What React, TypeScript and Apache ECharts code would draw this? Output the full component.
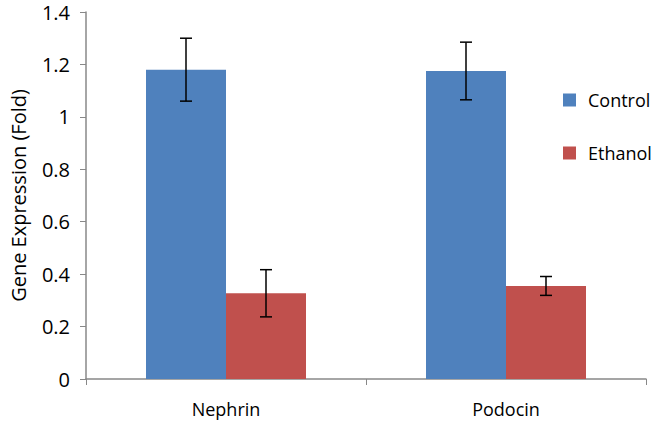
import React, { useEffect, useRef } from "react";
import * as echarts from "echarts";

const categories = ["Nephrin", "Podocin"];
const controlValues = [1.18, 1.175];
const controlErrors = [0.12, 0.11];
const ethanolValues = [0.327, 0.355];
const ethanolErrors = [0.09, 0.036];
const seriesNames = ["Control", "Ethanol"];
const colors = ["#4F81BD", "#C0504D"];
const BAR_W = 80;

export default function App() {
  const ref = useRef<HTMLDivElement>(null);
  useEffect(() => {
    const chart = echarts.init(ref.current!, null, { renderer: "svg" });
    const errSeries = (vals: number[], errs: number[], offset: number, name: string) => ({
      type: "custom",
      name: name + " err",
      data: vals.map((v, i) => [i, v - errs[i], v + errs[i]]),
      z: 10,
      renderItem: (params: any, api: any) => {
        const i = api.value(0);
        const lo = api.coord([i, api.value(1)]);
        const hi = api.coord([i, api.value(2)]);
        const x = lo[0] + offset;
        const cap = 6;
        const style = { stroke: "#000", lineWidth: 1.5 };
        return {
          type: "group",
          children: [
            { type: "line", shape: { x1: x, y1: lo[1], x2: x, y2: hi[1] }, style },
            { type: "line", shape: { x1: x - cap, y1: lo[1], x2: x + cap, y2: lo[1] }, style },
            { type: "line", shape: { x1: x - cap, y1: hi[1], x2: x + cap, y2: hi[1] }, style },
          ],
        };
      },
    });
    chart.setOption({
      animation: false,
      textStyle: { fontFamily: "Open Sans" },
      grid: { left: 82, right: 6, top: 12, bottom: 47 },
      legend: {
        orient: "vertical",
        left: 558,
        top: 86,
        itemWidth: 13,
        itemHeight: 13,
        itemGap: 35,
        icon: "rect",
        data: seriesNames,
        textStyle: { fontSize: 18, lineHeight: 18, color: "#000", fontFamily: "Open Sans", padding: [0, 0, 0, 7] },
      },
      xAxis: {
        type: "category",
        data: categories,
        axisLine: { lineStyle: { color: "#888", width: 1.5 } },
        axisTick: { show: true, length: 6, lineStyle: { color: "#888" } },
        axisLabel: { fontSize: 18, color: "#000", margin: 21 },
      },
      yAxis: {
        type: "value",
        min: 0,
        max: 1.4,
        interval: 0.2,
        name: "Gene Expression (Fold)",
        nameLocation: "middle",
        nameGap: 58,
        nameTextStyle: { fontSize: 20, color: "#000" },
        axisLine: { show: true, lineStyle: { color: "#888", width: 1.5 } },
        axisTick: { show: true, length: 6, lineStyle: { color: "#888" } },
        splitLine: { show: false },
        axisLabel: {
          fontSize: 20,
          color: "#000",
          margin: 16,
          formatter: (v: number) => String(Math.round(v * 10) / 10),
        },
      },
      series: [
        {
          type: "bar",
          name: seriesNames[0],
          data: controlValues,
          barWidth: BAR_W,
          barGap: "0%",
          itemStyle: { color: colors[0] },
        },
        {
          type: "bar",
          name: seriesNames[1],
          data: ethanolValues,
          barWidth: BAR_W,
          barGap: "0%",
          itemStyle: { color: colors[1] },
        },
        errSeries(controlValues, controlErrors, -BAR_W / 2, seriesNames[0]),
        errSeries(ethanolValues, ethanolErrors, BAR_W / 2, seriesNames[1]),
      ],
    });
    return () => chart.dispose();
  }, []);
  return <div ref={ref} style={{ width: 652, height: 426, position: "absolute", left: 0, top: 0 }} />;
}
